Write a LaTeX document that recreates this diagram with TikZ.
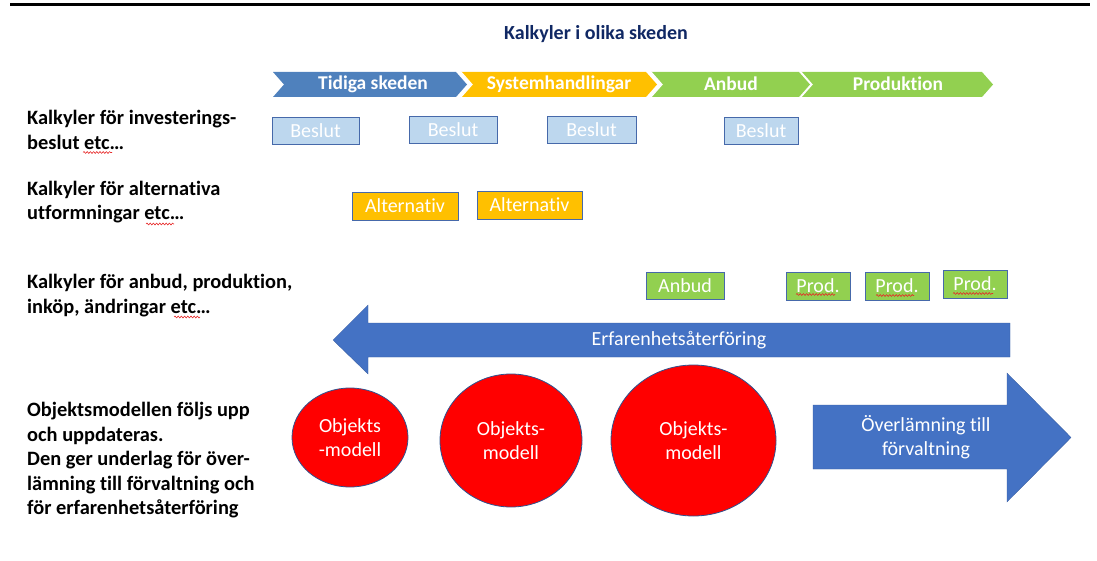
\documentclass[tikz,border=0pt]{standalone}
\usepackage{fontspec}
\setmainfont{Carlito}[Ligatures=NoCommon]
\usetikzlibrary{shapes.geometric,decorations.pathmorphing}

\definecolor{navy}{RGB}{16,40,100}
\definecolor{phaseblue}{RGB}{79,129,189}
\definecolor{phaseyellow}{RGB}{255,192,0}
\definecolor{phasegreen}{RGB}{146,208,80}
\definecolor{paleblue}{RGB}{189,215,238}
\definecolor{boxedge}{RGB}{70,105,170}
\definecolor{arrowblue}{RGB}{68,114,196}
\definecolor{modelred}{RGB}{255,0,0}
\definecolor{modeledge}{RGB}{47,82,143}
\definecolor{squig}{RGB}{230,40,40}

\begin{document}
\begin{tikzpicture}[x=1pt,y=-1pt,
  big/.style={font=\fontsize{20}{24}\selectfont},
  rowlabel/.style={font=\bfseries\fontsize{20.4}{24.5}\selectfont,align=left,anchor=west,inner sep=0pt},
  phasetext/.style={font=\bfseries\fontsize{19.5}{23}\selectfont,text=white,inner sep=0pt},
  phaseshape/.style={draw=white,line width=1.2pt},
  tagbox/.style={big,draw=boxedge,line width=0.8pt,text=white,inner sep=0pt,minimum height=27pt},
  beslutbox/.style={tagbox,fill=paleblue},
  altbox/.style={tagbox,fill=phaseyellow,minimum height=28pt},
  prodbox/.style={tagbox,fill=phasegreen},
  model/.style={big,ellipse,fill=modelred,draw=modeledge,line width=0.8pt,text=white,align=center,inner sep=0pt},
  bigarrow/.style={fill=arrowblue,draw=arrowblue!80!black,line width=0.3pt},
  arrowtext/.style={big,text=white,align=center,inner sep=0pt},
  wavy/.style={draw=squig,line width=0.6pt,decorate,decoration={snake,amplitude=0.9pt,segment length=3.2pt}}
]
\useasboundingbox (0,0) rectangle (1097,561);

% rule along the top
\coordinate (ruleL) at (10,5);
\coordinate (ruleR) at (1090,5);
\draw[line width=3pt] (ruleL) -- (ruleR);

\node[font=\bfseries\fontsize{20}{24}\selectfont,text=navy] (title) at (596,34) {Kalkyler i olika skeden};

% phase chevrons
\fill[phaseblue]   (273,72) -- (456,72) -- (467,84.5) -- (456,97) -- (273,97) -- (284,84.5) -- cycle;
\fill[phaseyellow] (461,72) -- (646,72) -- (657,84.5) -- (646,97) -- (461,97) -- (472,84.5) -- cycle;
\fill[phasegreen]  (651,72) -- (799,72) -- (810,84.5) -- (799,97) -- (651,97) -- (662,84.5) -- cycle;
\fill[phasegreen]  (801,72) -- (982,72) -- (993,84.5) -- (982,97) -- (801,97) -- (812,84.5) -- cycle;
\draw[phaseshape] (461,72) -- (472,84.5) -- (461,97);
\draw[phaseshape] (651,72) -- (662,84.5) -- (651,97);
\draw[phaseshape] (801,72) -- (812,84.5) -- (801,97);

\node[phasetext] (p1) at (373,84) {Tidiga skeden};
\node[phasetext] (p2) at (559,84) {Systemhandlingar};
\node[phasetext] (p3) at (731,84) {Anbud};
\node[phasetext] (p4) at (898,84) {Produktion};

% row labels
\node[rowlabel] (r1) at (27,130) {Kalkyler för investerings-\\beslut etc…};
\node[rowlabel] (r2) at (27,202) {Kalkyler för alternativa\\utformningar etc…};
\node[rowlabel] (r3) at (27,295.5) {Kalkyler för anbud, produktion,\\inköp, ändringar etc…};
\node[rowlabel] (r4) at (27,460.5) {Objektsmodellen följs upp\\och uppdateras.\\Den ger underlag för över-\\lämning till förvaltning och\\för erfarenhetsåterföring};

% decision estimates
\node[beslutbox,minimum width=87pt] (b1) at (315.5,130.5) {Beslut};
\node[beslutbox,minimum width=88pt] (b2) at (453,129.5) {Beslut};
\node[beslutbox,minimum width=89pt] (b3) at (591.5,129.5) {Beslut};
\node[beslutbox,minimum width=74pt] (b4) at (761,130.5) {Beslut};

% alternatives
\node[altbox,minimum width=106pt] (a1) at (405,206) {Alternativ};
\node[altbox,minimum width=105pt] (a2) at (529.5,205) {Alternativ};

% tender and production
\node[prodbox,minimum width=78pt] (t1) at (685,285.5) {Anbud};
\node[prodbox,minimum width=64pt,minimum height=28pt] (pr1) at (818,286) {Prod.};
\node[prodbox,minimum width=64pt,minimum height=28pt] (pr2) at (897,286) {Prod.};
\node[prodbox,minimum width=64pt,minimum height=28pt] (pr3) at (975,284) {Prod.};

% spelling marks under "etc" and "Prod"
\draw[wavy] (83,152.5) -- (112,152.5);
\draw[wavy] (146,224) -- (174,224);
\draw[wavy] (174,317) -- (200,317);
\draw[wavy] (796,294.5) -- (835,294.5);
\draw[wavy] (876,295.5) -- (914,295.5);
\draw[wavy] (953,293.5) -- (993,293.5);

% feedback arrow
\draw[bigarrow] (1010,323) -- (368,323) -- (368,305) -- (333,340) -- (368,374) -- (368,357) -- (1010,357) -- cycle;
\node[arrowtext] (fb) at (679,340) {Erfarenhetsåterföring};

% object models
\node[model,minimum width=116pt,minimum height=99pt] (m1) at (350,437.5) {Objekts\\-modell};
\node[model,minimum width=142pt,minimum height=133pt] (m2) at (511,440.5) {Objekts-\\modell};
\node[model,minimum width=165pt,minimum height=151pt] (m3) at (693.5,440.5) {Objekts-\\modell};

% handover arrow
\draw[bigarrow] (813,405) -- (1007,405) -- (1007,373) -- (1071,437.5) -- (1007,502) -- (1007,469) -- (813,469) -- cycle;
\node[arrowtext] (ho) at (926,437) {Överlämning till\\förvaltning};
\end{tikzpicture}
\end{document}
